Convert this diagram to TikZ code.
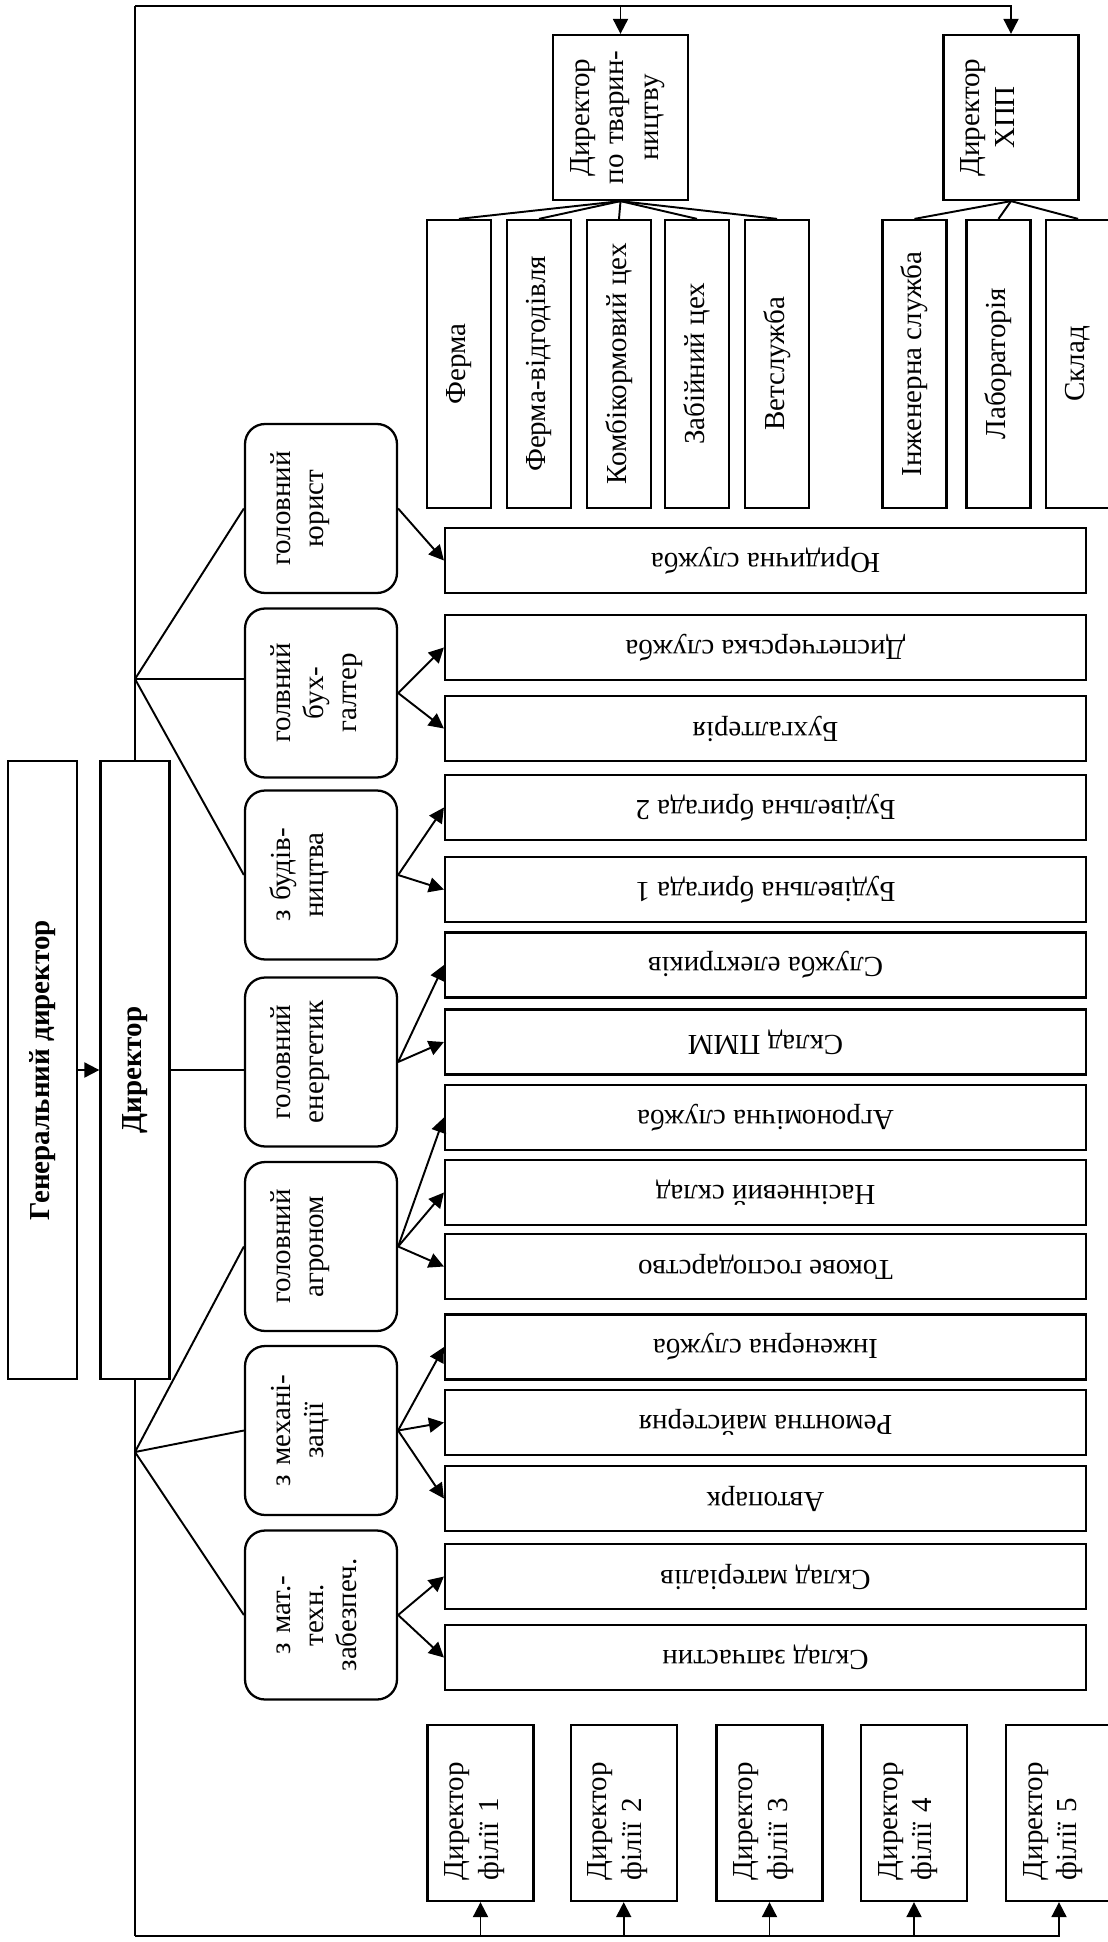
\documentclass[tikz,border=0pt]{standalone}
\usepackage{fontspec}
\setmainfont{Liberation Serif}
\usetikzlibrary{arrows.meta}
\tikzset{
  box/.style={draw, line width=1.3pt, fill=white, font=\fontsize{16.5}{19.2}\selectfont},
  head/.style={box, rotate=90, inner sep=0pt, minimum width=12.36cm, minimum height=1.38cm,
    font=\fontsize{16.5}{19.2}\selectfont\bfseries},
  boss/.style={box, rotate=90, inner xsep=0.1cm, inner ysep=0pt, text width=3.1cm, align=center,
    text height=0.72cm, text depth=1.98cm, font=\fontsize{16.5}{19.8}\selectfont},
  unit/.style={box, rotate=90, inner sep=0pt, minimum width=5.76cm, minimum height=1.28cm},
  mgr/.style={box, rotate=90, rounded corners=0.4cm, inner sep=0pt, text width=3.38cm, align=center,
    text height=0.9cm, text depth=2.14cm, font=\fontsize{16.5}{18.8}\selectfont},
  svc/.style={box, rotate=180, inner sep=0pt, minimum width=12.82cm, minimum height=1.3cm},
  branch/.style={box, rotate=90, inner xsep=0.42cm, inner ysep=0pt, text width=2.68cm, align=left,
    text height=0.72cm, text depth=1.4cm, font=\fontsize{16.5}{19.8}\selectfont},
  ln/.style={line width=1.1pt},
  arr/.style={line width=1.1pt, -{Triangle[length=0.3cm, width=0.3cm]}},
}

\begin{document}
\begin{tikzpicture}[x=0.02cm, y=-0.02cm]
\path[fill=white] (0,0) rectangle (1107,1942);
\useasboundingbox (0,0) rectangle (1107,1942);

% --- head office ---
\node[head] (gen) at (42.5,1070) {Генеральний директор};
\node[head] (dir) at (135,1070) {Директор};

% --- directors on top ---
\node[boss] (tv)  at (620.5,117.5) {Директор\\по тварин-\\ництву};
\node[boss] (xpp) at (1011,117.5) {Директор\\ХПП};

\node[unit] (ferma) at (459,364) {Ферма};
\node[unit] (vidg)  at (539,364) {Ферма-відгодівля};
\node[unit] (komb)  at (619,364) {Комбікормовий цех};
\node[unit] (zab)   at (697,364) {Забійний цех};
\node[unit] (vet)   at (777,364) {Ветслужба};

\node[unit] (xinzh) at (914.5,364) {Інженерна служба};
\node[unit] (lab)   at (998.5,364) {Лабораторія};
\node[unit] (xskl)  at (1078,364) {Склад};

% --- deputies ---
\node[mgr] (mUr)  at (321,508.5) {головний\\юрист};
\node[mgr] (mBuh) at (321,693) {голвний\\бух-\\галтер};
\node[mgr] (mBud) at (321,875) {з будів-\\ництва};
\node[mgr] (mEn)  at (321,1062) {головний\\енергетик};
\node[mgr] (mAgr) at (321,1246.5) {головний\\агроном};
\node[mgr] (mMex) at (321,1430.5) {з механі-\\зації};
\node[mgr] (mMat) at (321,1615) {з мат.-\\техн.\\забезпеч.};

% --- services ---
\node[svc] (yur)  at (765.5,560.5) {Юридична служба};
\node[svc] (disp) at (765.5,647.5) {Диспетчерська служба};
\node[svc] (buh)  at (765.5,728.5) {Бухгалтерія};
\node[svc] (br2)  at (765.5,807.5) {Будівельна бригада 2};
\node[svc] (br1)  at (765.5,889.5) {Будівельна бригада 1};
\node[svc] (elek) at (765.5,965) {Служба електриків};
\node[svc] (pmm)  at (765.5,1042) {Склад ПММ};
\node[svc] (agrs) at (765.5,1117.5) {Агрономічна служба};
\node[svc] (nas)  at (765.5,1192.5) {Насінневий склад};
\node[svc] (tok)  at (765.5,1266.5) {Токове господарство};
\node[svc] (inzh) at (765.5,1347) {Інженерна служба};
\node[svc] (rem)  at (765.5,1422.5) {Ремонтна майстерня};
\node[svc] (avto) at (765.5,1498.5) {Автопарк};
\node[svc] (mat)  at (765.5,1576.5) {Склад матеріалів};
\node[svc] (zap)  at (765.5,1657.5) {Склад запчастин};

% --- branches ---
\node[branch] (f1) at (480.5,1813) {Директор\\філії 1};
\node[branch] (f2) at (623.7,1813) {Директор\\філії 2};
\node[branch] (f3) at (769.5,1813) {Директор\\філії 3};
\node[branch] (f4) at (914,1813) {Директор\\філії 4};
\node[branch] (f5) at (1059,1813) {Директор\\філії 5};

% frame round the whole scheme
\coordinate (tl) at (135,6);
\coordinate (bl) at (135,1936);
\draw[ln] (tl) -- (dir.east);
\draw[ln] (dir.west) -- (bl);
\draw[arr] (tl) -| (xpp.east);
\draw[arr] (tl -| tv.east) -- (tv.east);
\draw[arr] (bl) -| (f5.west);
\draw[arr] (bl -| f1.west) -- (f1.west);
\draw[arr] (bl -| f2.west) -- (f2.west);
\draw[arr] (bl -| f3.west) -- (f3.west);
\draw[arr] (bl -| f4.west) -- (f4.west);

\draw[arr] (gen.south) -- (dir.north);

% top units
\draw[ln] (tv.west) -- (ferma.east);
\draw[ln] (tv.west) -- (vidg.east);
\draw[ln] (tv.west) -- (komb.east);
\draw[ln] (tv.west) -- (zab.east);
\draw[ln] (tv.west) -- (vet.east);
\draw[ln] (xpp.west) -- (xinzh.east);
\draw[ln] (xpp.west) -- (lab.east);
\draw[ln] (xpp.west) -- (xskl.east);

% fans to deputies
\coordinate (fanU) at (135,679);
\coordinate (fanL) at (135,1452);
\draw[ln] (fanU) -- (mUr.north);
\draw[ln] (fanU) -- (fanU -| mBuh.north);
\draw[ln] (fanU) -- (mBud.north);
\draw[ln] (dir.south) -- (dir.south -| mEn.north);
\draw[ln] (fanL) -- (mAgr.north);
\draw[ln] (fanL) -- (mMex.north);
\draw[ln] (fanL) -- (mMat.north);

% deputies to services
\draw[arr] (mUr.south) -- (yur.east);
\draw[arr] (mBuh.south) -- (disp.east);
\draw[arr] (mBuh.south) -- (buh.east);
\draw[arr] (mBud.south) -- (br2.east);
\draw[arr] (mBud.south) -- (br1.east);
\draw[arr] (mEn.south) -- (elek.east);
\draw[arr] (mEn.south) -- (pmm.east);
\draw[arr] (mAgr.south) -- (agrs.east);
\draw[arr] (mAgr.south) -- (nas.east);
\draw[arr] (mAgr.south) -- (tok.east);
\draw[arr] (mMex.south) -- (inzh.east);
\draw[arr] (mMex.south) -- (rem.east);
\draw[arr] (mMex.south) -- (avto.east);
\draw[arr] (mMat.south) -- (mat.east);
\draw[arr] (mMat.south) -- (zap.east);
\end{tikzpicture}
\end{document}
